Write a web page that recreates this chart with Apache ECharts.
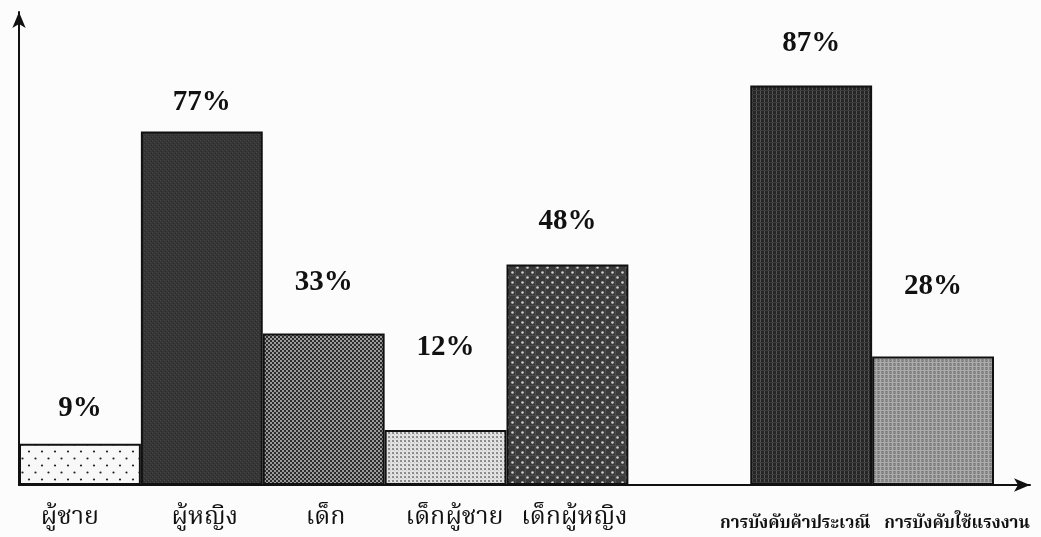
<!DOCTYPE html>
<html>
<head>
<meta charset="utf-8">
<script src="https://cdn.jsdelivr.net/npm/echarts@6/dist/echarts.min.js"></script>
<style>
  html, body { margin: 0; padding: 0; background: #fcfcfc; }
  #chart { width: 1041px; height: 537px; }
</style>
</head>
<body>
<div id="chart"></div>
<script>
// ---- data ----
const categories = ['ผู้ชาย', 'ผู้หญิง', 'เด็ก', 'เด็กผู้ชาย', 'เด็กผู้หญิง', '', 'การบังคับค้าประเวณี', 'การบังคับใช้แรงงาน'];
const values = [9, 77, 33, 12, 48, null, 87, 28];
const valueLabels = ['9%', '77%', '33%', '12%', '48%', '', '87%', '28%'];

// ---- styles (kept separate from the data) ----
const labelGaps = [21, 14, 36, 68, 29, 0, 27, 55];
const labelShifts = [-10, 3, 2, 9, 7, 0, -16, 24];
const smallLabelIdx = [6, 7];

function makePattern(w, h, draw) {
  const c = document.createElement('canvas');
  c.width = w; c.height = h;
  const ctx = c.getContext('2d');
  draw(ctx, w, h);
  return { image: c, repeat: 'repeat' };
}
function dot(ctx, x, y, r, col) {
  ctx.fillStyle = col;
  ctx.beginPath(); ctx.arc(x, y, r, 0, Math.PI * 2); ctx.fill();
}
const patterns = [
  makePattern(13, 14, (ctx, w, h) => {
    ctx.fillStyle = '#f8f8f8'; ctx.fillRect(0, 0, w, h);
    dot(ctx, 3, 3.5, 1.1, '#222'); dot(ctx, 9.5, 10.5, 1.1, '#222');
  }),
  makePattern(4, 4, (ctx, w, h) => {
    ctx.fillStyle = '#363636'; ctx.fillRect(0, 0, w, h);
    ctx.fillStyle = '#4a4a4a'; ctx.fillRect(0, 0, 1, 1); ctx.fillRect(2, 2, 1, 1);
    ctx.fillStyle = '#2a2a2a'; ctx.fillRect(1, 3, 1, 1); ctx.fillRect(3, 1, 1, 1);
  }),
  makePattern(4, 4, (ctx, w, h) => {
    ctx.fillStyle = '#2c2c2c'; ctx.fillRect(0, 0, w, h);
    ctx.fillStyle = '#9a9a9a'; ctx.fillRect(0, 0, 2, 2); ctx.fillRect(2, 2, 2, 2);
  }),
  makePattern(4, 4, (ctx, w, h) => {
    ctx.fillStyle = '#e2e2e2'; ctx.fillRect(0, 0, w, h);
    ctx.fillStyle = '#8c8c8c'; ctx.fillRect(0, 0, 2, 2);
    ctx.fillStyle = '#c4c4c4'; ctx.fillRect(2, 2, 1, 1);
  }),
  makePattern(10, 10, (ctx, w, h) => {
    ctx.fillStyle = '#3a3a3a'; ctx.fillRect(0, 0, w, h);
    ctx.fillStyle = '#4c4c4c'; ctx.fillRect(0, 5, 10, 1); ctx.fillRect(5, 0, 1, 10);
    dot(ctx, 2.5, 2.5, 1.3, '#d0d0d0'); dot(ctx, 7.5, 7.5, 1.3, '#d0d0d0');
  }),
  null,
  makePattern(4, 4, (ctx, w, h) => {
    ctx.fillStyle = '#262626'; ctx.fillRect(0, 0, w, h);
    ctx.fillStyle = '#555555'; ctx.fillRect(0, 0, 1, 4);
    ctx.fillStyle = '#3c3c3c'; ctx.fillRect(0, 2, 4, 1);
  }),
  makePattern(4, 4, (ctx, w, h) => {
    ctx.fillStyle = '#8c8c8c'; ctx.fillRect(0, 0, w, h);
    ctx.fillStyle = '#ababab'; ctx.fillRect(0, 0, 1, 4); ctx.fillRect(0, 2, 4, 1);
    ctx.fillStyle = '#767676'; ctx.fillRect(2, 1, 1, 1); ctx.fillRect(2, 3, 1, 1);
  })
];

const thaiFont = '"Noto Serif Thai", "Noto Sans Thai", "Norasi", "Loma", "Garuda", "Liberation Serif", "DejaVu Serif", serif';

function shiftPad(s, top) {
  return s >= 0 ? [top, 0, 0, 2 * s] : [top, -2 * s, 0, 0];
}
const axisData = categories.map((c, i) => smallLabelIdx.includes(i)
  ? { value: c, textStyle: { fontSize: 17, fontWeight: 'bold', padding: shiftPad(labelShifts[i], 10) } }
  : { value: c, textStyle: { padding: shiftPad(labelShifts[i], 0) } });

const seriesData = values.map((v, i) => v == null ? '-' : {
  value: v,
  itemStyle: { color: patterns[i] },
  label: { distance: labelGaps[i] }
});

const chart = echarts.init(document.getElementById('chart'), null, { renderer: 'canvas' });
chart.setOption({
  backgroundColor: '#fcfcfc',
  animation: false,
  grid: [
    { left: 19, right: 47, top: 12, bottom: 52 },
    { left: 19, right: 11, top: 12, bottom: 52 }
  ],
  xAxis: [
    {
      type: 'category', gridIndex: 0, data: axisData,
      axisLine: { show: false }, axisTick: { show: false },
      axisLabel: { color: '#111', fontFamily: thaiFont, fontSize: 25, margin: 22, interval: 0 }
    },
    {
      type: 'value', gridIndex: 1, min: 0, max: 1,
      axisLine: { show: true, onZero: false, symbol: ['none', 'arrow'], symbolSize: [10, 16], lineStyle: { color: '#111', width: 2 } },
      axisTick: { show: false }, axisLabel: { show: false }, splitLine: { show: false }
    }
  ],
  yAxis: [
    {
      type: 'value', gridIndex: 0, min: 0, max: 103,
      axisLine: { show: true, symbol: ['none', 'arrow'], symbolSize: [10, 16], lineStyle: { color: '#111', width: 2 } },
      axisTick: { show: false }, axisLabel: { show: false }, splitLine: { show: false }
    },
    { type: 'value', gridIndex: 1, min: 0, max: 1, show: false }
  ],
  series: [{
    type: 'bar',
    xAxisIndex: 0, yAxisIndex: 0,
    barWidth: '100%',
    data: seriesData,
    itemStyle: { borderColor: '#111', borderWidth: 2 },
    label: {
      show: true, position: 'top',
      formatter: p => valueLabels[p.dataIndex],
      fontFamily: '"Liberation Serif", "Times New Roman", serif',
      fontWeight: 'bold', fontSize: 29, color: '#111'
    }
  }]
});
</script>
</body>
</html>
